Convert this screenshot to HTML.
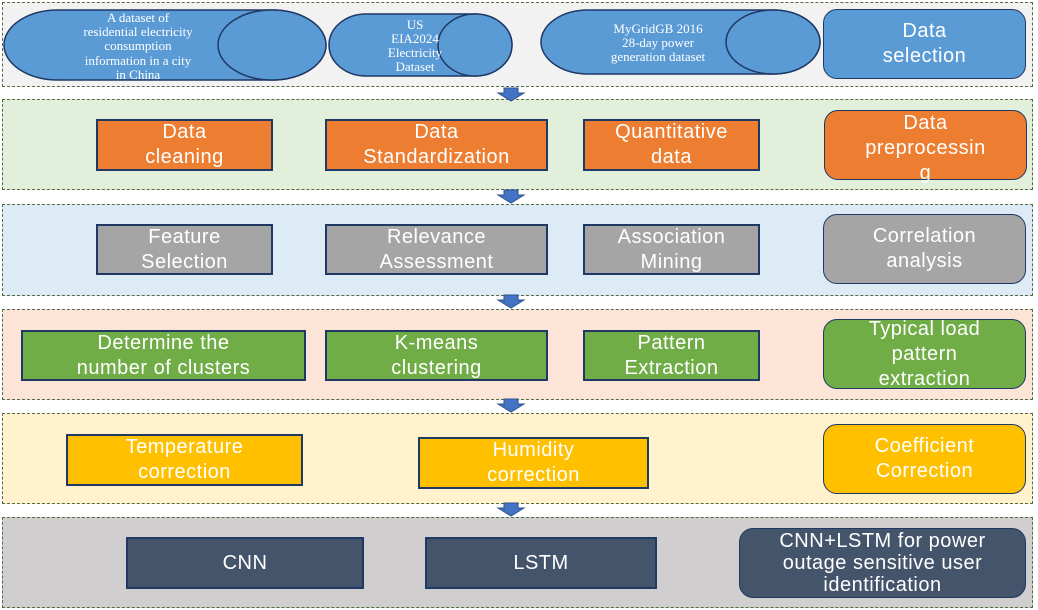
<!DOCTYPE html>
<html><head><meta charset="utf-8"><style>
body{margin:0;width:1038px;height:610px;background:#fff;position:relative;overflow:hidden;font-family:"Liberation Sans","DejaVu Sans",sans-serif}
.band{position:absolute;left:2px;width:1031px;border:1.5px dashed #556b44;box-sizing:border-box}
.b{position:absolute;box-sizing:border-box;border:2px solid #203864;color:#fff;display:flex;align-items:center;justify-content:center;text-align:center;font-size:20px;line-height:25px;letter-spacing:0.5px}
.r{border-radius:14px;border-width:1.5px}
.arr{position:absolute;left:500px;width:22px;height:14px}
</style></head><body>
<div class="band" style="top:2px;height:85px;background:#f2f2f2"></div>
<div class="band" style="top:99px;height:91px;background:#e2efda"></div>
<div class="band" style="top:204px;height:92px;background:#ddebf7"></div>
<div class="band" style="top:309px;height:91px;background:#fce4d6"></div>
<div class="band" style="top:413px;height:91px;background:#fff2cc"></div>
<div class="band" style="top:517px;height:91px;background:#d0cece"></div>

<svg style="position:absolute;left:0;top:0" width="1038" height="610">
<g fill="#5b9bd5" stroke="#1f3864" stroke-width="1.5">
<path d="M58 10 L272 10 A54 35 0 0 1 272 80 L58 80 A54 35 0 0 1 58 10Z"/>
<ellipse cx="272" cy="45" rx="54" ry="35"/>
<path d="M366 14 L475 14 A37 31 0 0 1 475 76 L366 76 A37 31 0 0 1 366 14Z"/>
<ellipse cx="475" cy="45" rx="37" ry="31"/>
<path d="M588 10 L773 10 A47 32 0 0 1 773 74 L588 74 A47 32 0 0 1 588 10Z"/>
<ellipse cx="773" cy="42" rx="47" ry="32"/>
</g>
<g fill="#fff" font-family="Liberation Serif,serif" font-size="13" text-anchor="middle">
<text x="138" y="22">A dataset of</text>
<text x="138" y="36">residential electricity</text>
<text x="138" y="50">consumption</text>
<text x="138" y="65">information in a city</text>
<text x="138" y="79">in China</text>
<text x="415" y="29">US</text>
<text x="415" y="43">EIA2024</text>
<text x="415" y="57">Electricity</text>
<text x="415" y="71">Dataset</text>
<text x="658" y="33">MyGridGB 2016</text>
<text x="658" y="47">28-day power</text>
<text x="658" y="61">generation dataset</text>
</g>
<g fill="#4472c4" stroke="#2f528f" stroke-width="1">
<path d="M504 88 h14 v5 h6 l-13 8 l-13 -8 h6z"/>
<path d="M504 190 h14 v5 h6 l-13 8 l-13 -8 h6z"/>
<path d="M504 295 h14 v5 h6 l-13 8 l-13 -8 h6z"/>
<path d="M504 399 h14 v5 h6 l-13 8 l-13 -8 h6z"/>
<path d="M504 503 h14 v5 h6 l-13 8 l-13 -8 h6z"/>
</g>
</svg>

<div class="b r" style="left:823px;top:9px;width:203px;height:70px;background:#5b9bd5">Data<br>selection</div>

<div class="b" style="left:96px;top:119px;width:177px;height:52px;background:#ed7d31">Data<br>cleaning</div>
<div class="b" style="left:325px;top:119px;width:223px;height:52px;background:#ed7d31">Data<br>Standardization</div>
<div class="b" style="left:583px;top:119px;width:177px;height:52px;background:#ed7d31">Quantitative<br>data</div>
<div class="b r" style="left:824px;top:110px;width:203px;height:70px;background:#ed7d31;align-items:flex-start;line-height:25px;overflow:visible">Data<br>preprocessin<br>g</div>

<div class="b" style="left:96px;top:224px;width:177px;height:51px;background:#a5a5a5">Feature<br>Selection</div>
<div class="b" style="left:325px;top:224px;width:223px;height:51px;background:#a5a5a5">Relevance<br>Assessment</div>
<div class="b" style="left:583px;top:224px;width:177px;height:51px;background:#a5a5a5">Association<br>Mining</div>
<div class="b r" style="left:823px;top:214px;width:203px;height:70px;background:#a5a5a5">Correlation<br>analysis</div>

<div class="b" style="left:21px;top:330px;width:285px;height:51px;background:#70ad47">Determine the<br>number of clusters</div>
<div class="b" style="left:325px;top:330px;width:223px;height:51px;background:#70ad47">K-means<br>clustering</div>
<div class="b" style="left:583px;top:330px;width:177px;height:51px;background:#70ad47">Pattern<br>Extraction</div>
<div class="b r" style="left:823px;top:319px;width:203px;height:70px;background:#70ad47">Typical load<br>pattern<br>extraction</div>

<div class="b" style="left:66px;top:434px;width:237px;height:52px;background:#ffc000">Temperature<br>correction</div>
<div class="b" style="left:418px;top:437px;width:231px;height:52px;background:#ffc000">Humidity<br>correction</div>
<div class="b r" style="left:823px;top:424px;width:203px;height:70px;background:#ffc000">Coefficient<br>Correction</div>

<div class="b" style="left:126px;top:537px;width:238px;height:52px;background:#44546a">CNN</div>
<div class="b" style="left:425px;top:537px;width:232px;height:52px;background:#44546a">LSTM</div>
<div class="b r" style="left:739px;top:528px;width:287px;height:70px;background:#44546a;line-height:22px">CNN+LSTM for power<br>outage sensitive user<br>identification</div>
</body></html>
